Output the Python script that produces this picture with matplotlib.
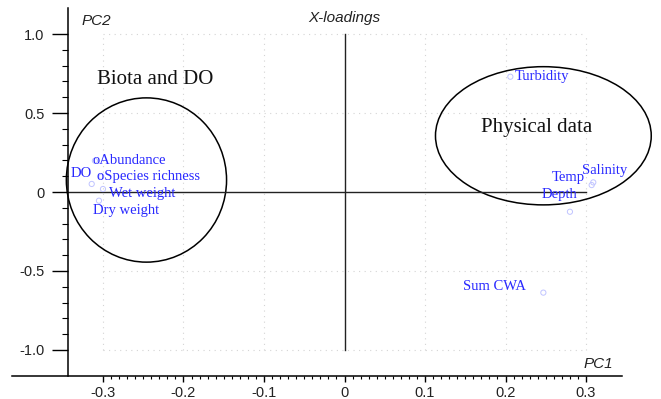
import numpy as np
import matplotlib
matplotlib.use("Agg")
import matplotlib.pyplot as plt
from matplotlib.patches import Ellipse
from matplotlib.ticker import FixedLocator

# loadings (PC1, PC2)
names = ["Abundance", "Species richness", "DO", "Wet weight", "Dry weight",
         "Turbidity", "Salinity", "Temp", "Depth", "Sum CWA"]
pc1 = [-0.310, -0.302, -0.314, -0.300, -0.305, 0.206, 0.309, 0.307, 0.280, 0.247]
pc2 = [0.198, 0.097, 0.051, 0.019, -0.055, 0.730, 0.061, 0.044, -0.125, -0.637]
labels = ["oAbundance", "oSpecies richness", "DO", "Wet weight", "Dry weight",
          "Turbidity", "Salinity", "Temp", "Depth", "Sum CWA"]
# label offsets in pixels (dx, dy up) and horizontal alignment
offs = [(-2, 0, "left"), (-4, 0, "left"), (0, 10, "right"), (6, -4, "left"),
        (-6, -10, "left"), (4, 0, "left"), (-11, 12, "left"), (-7, 8, "right"),
        (7, 17, "right"), (-17, 6, "right")]

# groups: (centre x, centre y, width, height, title, title x, title y)
groups = [(-0.246, 0.076, 0.199, 1.04, "Biota and DO", -0.307, 0.71),
          (0.247, 0.356, 0.268, 0.875, "Physical data", 0.170, 0.41)]

fig = plt.figure(figsize=(6.61, 3.99), dpi=100)
ax = fig.add_axes([12/661, 1 - 375.7/399, (621.7 - 12)/661, (375.7 - 8)/399])
ax.set_xlim(-0.413, 0.3443)
ax.set_ylim(-1.163, 1.165)

for s in ["top", "right"]:
    ax.spines[s].set_visible(False)
ax.spines["left"].set_position(("data", -0.344))
ax.spines["left"].set_linewidth(1.1)
ax.spines["bottom"].set_linewidth(1.1)

ax.xaxis.set_major_locator(FixedLocator([-0.3, -0.2, -0.1, 0, 0.1, 0.2, 0.3]))
ax.xaxis.set_minor_locator(FixedLocator(np.round(np.arange(-0.3, 0.3001, 0.01), 3)))
ax.yaxis.set_major_locator(FixedLocator([-1.0, -0.5, 0, 0.5, 1.0]))
ax.yaxis.set_minor_locator(FixedLocator(np.round(np.arange(-1.0, 1.001, 0.1), 2)))
ax.set_xticklabels(["-0.3", "-0.2", "-0.1", "0", "0.1", "0.2", "0.3"])
ax.set_yticklabels(["-1.0", "-0.5", "0", "0.5", "1.0"])
ax.tick_params(axis="x", which="major", length=4.3, width=1.0, pad=3,
               labelsize=10.5, direction="out")
ax.tick_params(axis="x", which="minor", length=2.4, width=0.8, direction="out")
ax.tick_params(axis="y", which="major", length=11.5, width=1.0, pad=5,
               labelsize=10.5, direction="out")
ax.tick_params(axis="y", which="minor", length=4.3, width=0.8, direction="out")
for t in ax.get_xticklabels() + ax.get_yticklabels():
    t.set_fontfamily("Liberation Sans")
    t.set_color("#222222")

# faint dotted grid
for gx in [-0.3, -0.2, -0.1, 0.1, 0.2, 0.3]:
    ax.plot([gx, gx], [-1, 1], color="#d4d4d4", lw=0.8, ls=(0, (1, 4)), zorder=0)
for gy in [-1.0, -0.5, 0.5, 1.0]:
    ax.plot([-0.3, 0.3], [gy, gy], color="#d4d4d4", lw=0.8, ls=(0, (1, 4)), zorder=0)

# zero lines
ax.plot([0, 0], [-1, 1], color="#222222", lw=1.0)
ax.plot([-0.344, 0.3], [0, 0], color="#222222", lw=1.0)

# points and labels
ax.scatter(pc1, pc2, s=14, facecolors="none", edgecolors="#c0c4ff", linewidths=0.7, zorder=3)
for x, y, lab, (dx, dy, ha) in zip(pc1, pc2, labels, offs):
    ax.annotate(lab, (x, y), xytext=(dx * 0.72, dy * 0.72), textcoords="offset points",
                ha=ha, va="center", color="#2828ff", fontsize=10.5,
                fontfamily="Liberation Serif", zorder=4)

for cx, cy, w, h, title, tx, ty in groups:
    ax.add_patch(Ellipse((cx, cy), w, h, fill=False, ec="black", lw=1.1, clip_on=False))
    ax.text(tx, ty, title, fontsize=15, fontfamily="Liberation Serif",
            ha="left", va="center", color="#111111")

ax.text(-0.308, 1.085, "PC2", fontsize=11, style="italic", fontfamily="Liberation Sans",
        ha="center", va="center", color="#222222")
ax.text(0.0, 1.1, "X-loadings", fontsize=11, style="italic", fontfamily="Liberation Sans",
        ha="center", va="center", color="#222222")
ax.text(0.315, -1.087, "PC1", fontsize=11, style="italic", fontfamily="Liberation Sans",
        ha="center", va="center", color="#222222")

fig.savefig("out.png", dpi=100)
